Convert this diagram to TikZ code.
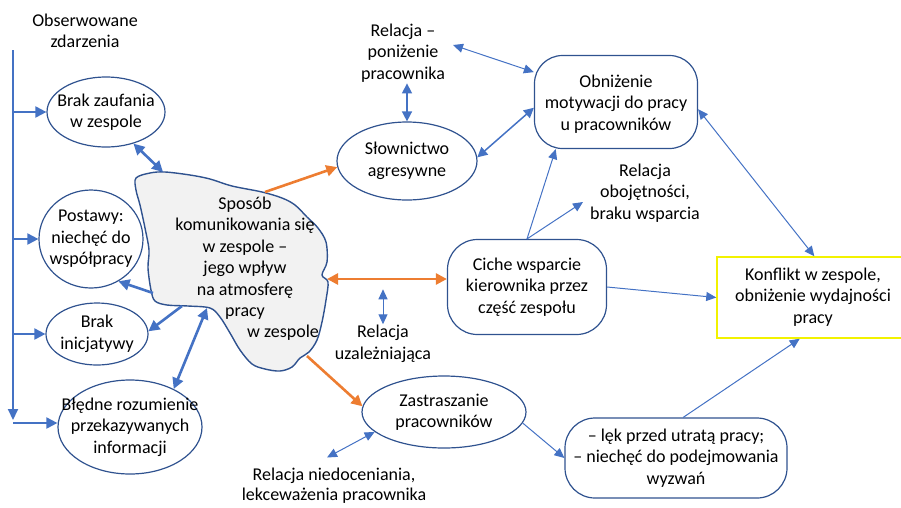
\documentclass[tikz,border=0pt]{standalone}
\usepackage{fontspec}
\setmainfont{Carlito}
\usetikzlibrary{arrows.meta,calc,shapes.geometric}
\definecolor{ln}{HTML}{4472C4}
\definecolor{bd}{HTML}{2F528F}
\definecolor{org}{HTML}{ED7D31}
\definecolor{yl}{HTML}{F2F200}
\definecolor{cf}{HTML}{F2F2F2}
\begin{document}
\begin{tikzpicture}[x=1pt,y=-1pt,
  txt/.style={align=center, font=\fontsize{18}{21.5}\selectfont, inner sep=1pt},
  oval/.style={draw=bd, line width=1.2pt, ellipse, inner sep=0pt},
  rbox/.style={draw=bd, line width=1.2pt, rectangle, rounded corners=28pt, inner sep=0pt},
  thk/.style={draw=ln, line width=2.6pt, >={Triangle[length=11pt,width=11pt]}},
  mid/.style={draw=ln, line width=1.5pt, >={Triangle[length=10pt,width=10pt]}},
  thn/.style={draw=ln, line width=1pt, >={Triangle[length=10pt,width=9pt]}},
  orng/.style={draw=org, line width=2.6pt, >={Triangle[length=11pt,width=11pt]}}
]
\useasboundingbox (0,0) rectangle (901,507);

% cloud
\draw[draw=bd, line width=1.4pt, fill=cf] plot[smooth cycle, tension=0.55] coordinates {
 (136,178) (150,173) (165,172) (190,175) (210,179) (232,186) (262,192) (282,198)
 (295,205) (307,217) (318,228) (326,242) (327,262) (322,275) (328,282) (326,300)
 (322,322) (317,340) (309,352) (300,358) (292,367) (280,371) (265,369) (252,364)
 (240,350) (230,333) (220,317) (210,308) (188,306) (167,305) (155,301) (151,290)
 (148,268) (149,250) (145,228) (140,205) (136,190)};
\node[txt] (cloudtxt) at (245,258) {Sposób\\komunikowania się\\w zespole –\\jego wpływ\\na atmosferę\\pracy};
\node[txt] (cloudtxt2) at (283,333) {w zespole};
\coordinate (cbz) at (163,172);
\coordinate (csl) at (265,192);
\coordinate (cci) at (327,279);
\coordinate (cza) at (307,356);
\coordinate (cpo) at (153,293);
\coordinate (cbi) at (182,306);
\coordinate (cbl) at (207,308);

% left column
\node[txt] (obs) at (85,31) {Obserwowane\\zdarzenia};
\coordinate (vtop) at (13,50);
\coordinate (vbot) at (13,420);

\node[oval, minimum width=118pt, minimum height=70pt] (bz) at (106,112) {};
\node[txt] at (bz) {Brak zaufania\\w zespole};
\node[oval, minimum width=104pt, minimum height=98pt] (po) at (91,239) {};
\node[txt] at (po) {Postawy:\\niechęć do\\współpracy};
\node[oval, minimum width=102pt, minimum height=62pt] (bi) at (97,334) {};
\node[txt] at (bi) {Brak\\inicjatywy};
\node[oval, minimum width=144pt, minimum height=94pt] (bl) at (130,427) {};
\node[txt] at (bl) {Błędne rozumienie\\przekazywanych\\informacji};

% middle
\node[txt] (rp) at (403,53) {Relacja –\\poniżenie\\pracownika};
\node[oval, minimum width=140pt, minimum height=78pt] (sl) at (407,161) {};
\node[txt] at (sl) {Słownictwo\\agresywne};
\node[txt] (ru) at (383,344) {Relacja\\uzależniająca};
\node[oval, minimum width=164pt, minimum height=72pt] (za) at (444,412) {};
\node[txt] at (za) {Zastraszanie\\pracowników};
\node[txt, font=\fontsize{18}{20.5}\selectfont] (rn) at (334,485.5) {Relacja niedoceniania,\\lekceważenia pracownika};

% right
\node[rbox, minimum width=163pt, minimum height=93pt] (ob) at (616,102) {};
\node[txt] at (616,104) {Obniżenie\\motywacji do pracy\\u pracowników};
\node[txt] (ro) at (645,193) {Relacja\\obojętności,\\braku wsparcia};
\node[rbox, rounded corners=30pt, minimum width=159pt, minimum height=95pt] (ci) at (527,287) {};
\node[txt] at (ci) {Ciche wsparcie\\kierownika przez\\część zespołu};
\node[draw=yl, line width=1.5pt, rectangle, inner sep=0pt, minimum width=186pt, minimum height=81pt] (kf) at (810,297.5) {};
\node[txt] at (813,297) {Konflikt w zespole,\\obniżenie wydajności\\pracy};
\node[rbox, rounded corners=30pt, minimum width=222pt, minimum height=80pt] (lk) at (676,458) {};
\node[txt] at (lk) {– lęk przed utratą pracy;\\– niechęć do podejmowania\\wyzwań};

% left connectors
\draw[draw=ln, line width=2pt, ->, >={Triangle[length=11pt,width=10pt]}] (vtop) -- (vbot);
\draw[thk, line width=2pt, ->] (vtop |- bz.west) -- (bz.west);
\draw[thk, line width=2pt, ->] (vtop |- po.west) -- (po.west);
\draw[thk, line width=2pt, ->] (vtop |- bi.west) -- (bi.west);
\draw[thk, line width=2pt, ->] (13,423) -- (bl.west |- 0,423);
\draw[thk, <->] (bz.-49) -- (cbz);
\draw[thk, ->] (cpo) -- (po.-57);
\draw[thk, ->] (cbi) -- (bi.3);
\draw[thk, <->] (cbl) -- (bl.41);

% orange
\draw[orng, ->] (csl) -- (sl.185);
\draw[orng, <->] (cci) -- (ci.west |- cci);
\draw[orng, ->] (cza) -- (za.176);

% middle connectors
\draw[mid, <->] (sl.north |- rp.south) -- (sl.north);
\draw[thn, <->] ($(rp.center)+(50,-8)$) -- (ob.160);
\draw[mid, <->] (sl.3) -- (ob.184);
\draw[thn, <->] ($(ru.north)+(0,-35)$) -- (ru.north);
\draw[thn, <->] (za.196) -- ($(rn.center)+(-7,-28)$);

% right connectors
\draw[thn, ->] (ci.north) -- (ob.218);
\draw[thn, ->] (ci.north) -- ($(ro.center)+(-62,9)$);
\draw[thn, <->] (ob.-5) -- (kf.84);
\draw[thn, ->] (ci.east) -- (kf.west);
\draw[thn, ->] (za.-8) -- (lk.west);
\draw[thn, ->] (lk.80) -- (kf.-104);
\end{tikzpicture}
\end{document}
